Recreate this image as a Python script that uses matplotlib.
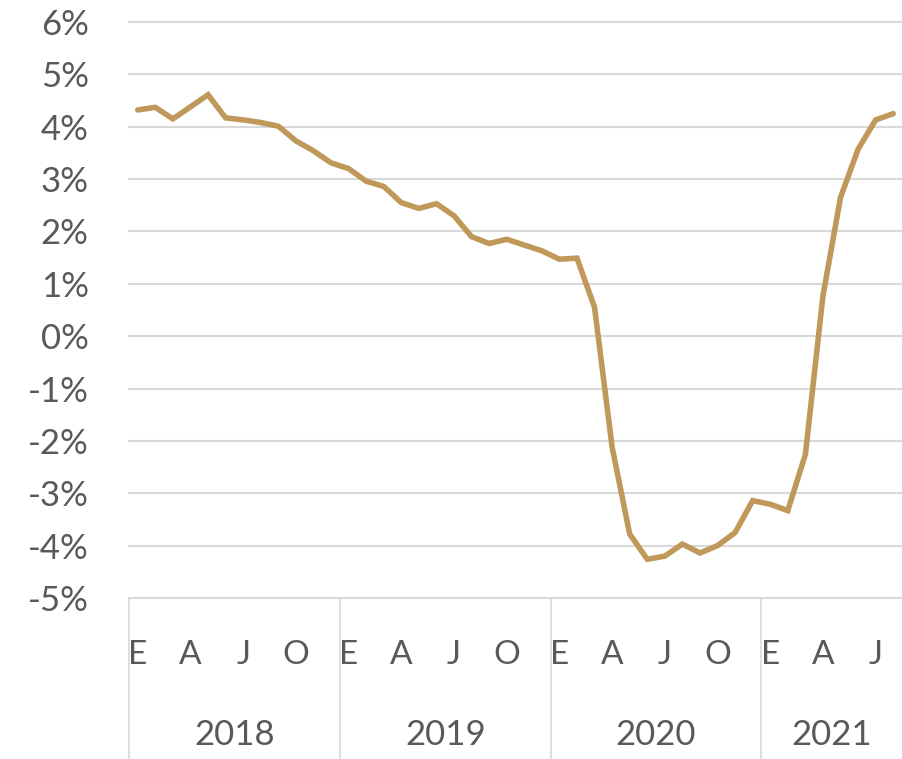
import matplotlib.pyplot as plt
from matplotlib.transforms import blended_transform_factory
from matplotlib.lines import Line2D

# monthly values, Jan 2018 .. Aug 2021 (%)
values = [4.32, 4.37, 4.15, 4.38, 4.61, 4.17, 4.13, 4.08, 4.01, 3.73, 3.54, 3.31,
          3.20, 2.96, 2.86, 2.55, 2.44, 2.53, 2.30, 1.90, 1.77, 1.85, 1.74, 1.63,
          1.47, 1.49, 0.55, -2.12, -3.78, -4.26, -4.20, -3.97, -4.14, -4.00, -3.75, -3.14,
          -3.21, -3.33, -2.26, 0.77, 2.65, 3.57, 4.13, 4.25]
years = ['2018', '2019', '2020', '2021']
year_months = [12, 12, 12, 8]
month_letters = ['E', 'A', 'J', 'O']
yticks = list(range(-5, 7))

LINE = '#C0985A'
TEXT = '#595959'
GRID = '#D9D9D9'
FONT = 'Lato'

fig = plt.figure(figsize=(9.02, 7.59), dpi=100)
ax = fig.add_axes([129 / 902, 161 / 759, 1 - 129 / 902, 576 / 759])

ax.plot(range(len(values)), values, color=LINE, lw=4.0, solid_joinstyle='miter',
        solid_capstyle='round', zorder=3)

ax.set_xlim(-0.5, len(values) - 0.5)
ax.set_ylim(-5, 6)
for s in ax.spines.values():
    s.set_visible(False)
for y in yticks:
    ax.axhline(y, color=GRID, lw=1.5, zorder=1, clip_on=False)

ax.set_yticks(yticks)
ax.set_yticklabels([f'{y}%' for y in yticks], fontsize=25, color=TEXT, family=FONT)
ax.tick_params(axis='y', length=0, pad=29)
ax.set_xticks([])

trans = blended_transform_factory(ax.transData, ax.transAxes)
start = 0
for yr, n in zip(years, year_months):
    edge = start - 0.5
    ax.add_line(Line2D([edge, edge], [0, -0.29], transform=trans, color=GRID,
                       lw=1.2, clip_on=False))
    for k, m in enumerate(month_letters):
        pos = start + 3 * k
        if pos - start < n:
            ax.text(pos, -0.099, m, transform=trans, ha='center', va='center',
                    fontsize=24, color=TEXT, family=FONT)
    ax.text(start + (n - 1) / 2, -0.238, yr, transform=trans, ha='center',
            va='center', fontsize=25, color=TEXT, family=FONT)
    start += n

fig.savefig('out.png', dpi=100)
